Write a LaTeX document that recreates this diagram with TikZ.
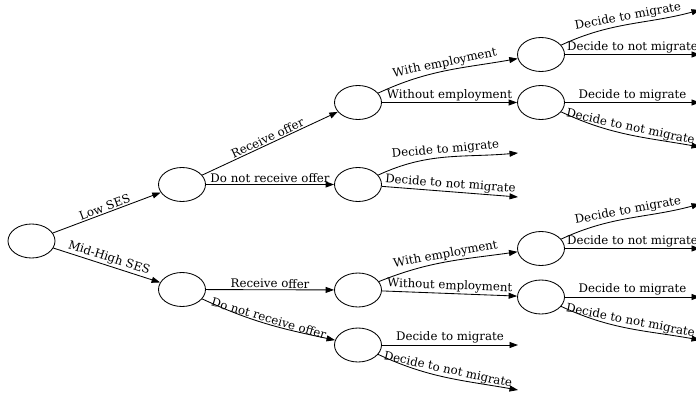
\documentclass[tikz,border=0pt]{standalone}
\usepackage{fontspec}
\setmainfont{DejaVu Serif}
\usetikzlibrary{shapes.geometric,arrows.meta}
\begin{document}
\begin{tikzpicture}[x=1pt,y=1pt,
  state/.style={draw, ellipse, minimum width=47pt, minimum height=34pt, inner sep=0pt, line width=0.85pt},
  edge/.style={line width=0.85pt, -{Triangle[length=8.5pt,width=6pt]}},
  lbl/.style={sloped, above, midway, inner sep=1.2pt, font=\fontsize{11.8}{14}\selectfont}]
\useasboundingbox (0,0) rectangle (696,397);
% nodes
\node[state] (root) at (31.5,156) {};
\node[state] (L) at (182,212.5) {};
\node[state] (M) at (182,107.5) {};
\node[state] (LR) at (358,294.5) {};
\node[state] (LN) at (358,212.5) {};
\node[state] (LRW) at (541,342.5) {};
\node[state] (LRWo) at (541,294.5) {};
\node[state] (MR) at (358,107) {};
\node[state] (MN) at (358,52) {};
\node[state] (MRW) at (541,148.5) {};
\node[state] (MRWo) at (541,100) {};
% terminal points
\coordinate (t1) at (700,387);
\coordinate (t2) at (700,342.5);
\coordinate (t3) at (700,294.5);
\coordinate (t4) at (700,250);
\coordinate (t5) at (518,244);
\coordinate (t6) at (518,200);
\coordinate (t7) at (700,193);
\coordinate (t8) at (700,148.5);
\coordinate (t9) at (700,100);
\coordinate (t10) at (700,57);
\coordinate (t11) at (518,52);
\coordinate (t12) at (518,7);
% edges
\draw[edge] (root) -- node[lbl] {Low SES} (L);
\draw[edge] (root) -- node[lbl] {Mid-High SES} (M);
\draw[edge] (L) -- node[lbl] {Receive offer} (LR);
\draw[edge] (L) -- node[lbl] {Do not receive offer} (LN);
\draw[edge] (LR) to[out=25,in=190] node[lbl] {With employment} (LRW);
\draw[edge] (LR) -- node[lbl] {Without employment} (LRWo);
\draw[edge] (LRW) to[out=25,in=195] node[lbl] {Decide to migrate} (t1);
\draw[edge] (LRW) -- node[lbl] {Decide to not migrate} (t2);
\draw[edge] (LRWo) -- node[lbl] {Decide to migrate} (t3);
\draw[edge] (LRWo) to[out=-25,in=170] node[lbl] {Decide to not migrate} (t4);
\draw[edge] (LN) to[out=25,in=185] node[lbl] {Decide to migrate} (t5);
\draw[edge] (LN) -- node[lbl] {Decide to not migrate} (t6);
\draw[edge] (M) -- node[lbl] {Receive offer} (MR);
\draw[edge] (M) to[out=-25,in=168] node[lbl] {Do not receive offer} (MN);
\draw[edge] (MR) to[out=22,in=188] node[lbl] {With employment} (MRW);
\draw[edge] (MR) -- node[lbl] {Without employment} (MRWo);
\draw[edge] (MRW) to[out=25,in=195] node[lbl] {Decide to migrate} (t7);
\draw[edge] (MRW) -- node[lbl] {Decide to not migrate} (t8);
\draw[edge] (MRWo) -- node[lbl] {Decide to migrate} (t9);
\draw[edge] (MRWo) to[out=-25,in=170] node[lbl] {Decide to not migrate} (t10);
\draw[edge] (MN) -- node[lbl] {Decide to migrate} (t11);
\draw[edge] (MN) to[out=-25,in=170] node[lbl] {Decide to not migrate} (t12);
\end{tikzpicture}
\end{document}
